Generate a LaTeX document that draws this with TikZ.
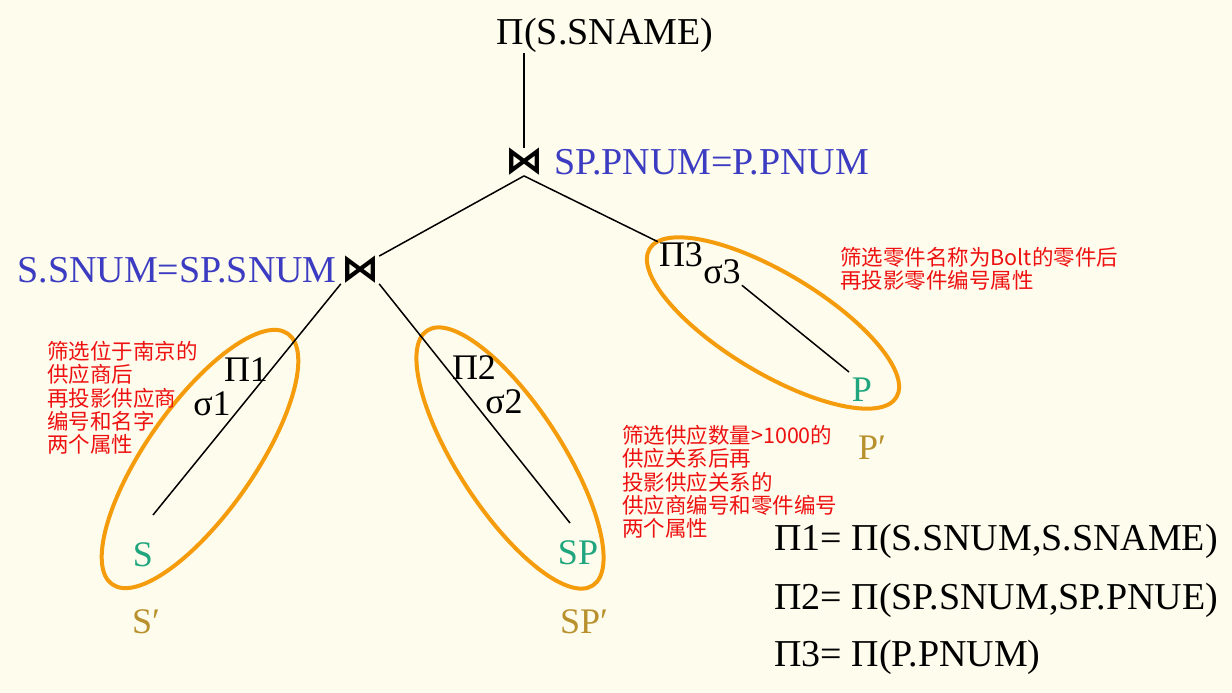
\documentclass[tikz,border=0pt]{standalone}
\usepackage{fontspec}
\setmainfont{Liberation Serif}
\newfontfamily\cjkfont{Noto Sans CJK SC}
\newfontfamily\symfont{DejaVu Sans}
\definecolor{bgcream}{HTML}{FEFCEC}
\definecolor{condblue}{HTML}{3C3CC2}
\definecolor{relgreen}{HTML}{1FA67E}
\definecolor{primegold}{HTML}{B8912E}
\definecolor{ovalorange}{HTML}{F59C0C}
\definecolor{notered}{HTML}{EE1111}
\begin{document}
\begin{tikzpicture}[x=1pt,y=-1pt,
	edge/.style={draw=black,line width=1.5pt},
	lbl/.style={inner sep=1pt,font=\fontsize{38}{40}\selectfont},
	op/.style={inner sep=1pt,font=\fontsize{36}{38}\selectfont},
	rel/.style={op,text=relgreen},
	relp/.style={op,text=primegold},
	cond/.style={lbl,text=condblue},
	joinop/.style={inner sep=0pt,font=\symfont\bfseries\fontsize{38}{38}\selectfont},
	oval/.style={draw=ovalorange,line width=4pt},
	note/.style={anchor=north west,align=left,inner sep=0pt,text=notered,font=\cjkfont\fontsize{21.5}{23.3}\selectfont}]
		\fill[bgcream] (0,0) rectangle (1232,693);
		\useasboundingbox (0,0) rectangle (1232,693);
		% the three sub-queries
		\draw[oval,rotate around={55:(200,459)}]  (200,459) ellipse[x radius=153,y radius=54];
		\draw[oval,rotate around={-57:(510,458)}] (510,458) ellipse[x radius=152,y radius=52];
		\draw[oval,rotate around={-31:(773,323)}] (773,323) ellipse[x radius=144,y radius=50];
		% tree
		\node[lbl] (root) at (605,35) {Π(S.SNAME)};
		\node[joinop] (j1) at (524,162) {⋈};
		\node[cond,anchor=west] (c1) at (553,162) {SP.PNUM=P.PNUM};
		\node[joinop] (j2) at (360,270) {⋈};
		\node[cond,anchor=east] (c2) at (338,270) {S.SNUM=SP.SNUM};
		\node[op] (pi1) at (246,370) {Π1};
		\node[op] (sg1) at (212,404) {σ1};
		\node[op] (pi2) at (474,368) {Π2};
		\node[op] (sg2) at (504,402) {σ2};
		\node[op] (pi3) at (681,255) {Π3};
		\node[op] (sg3) at (722,272) {σ3};
		\node[rel] (S) at (143,555) {S};
		\node[rel] (SP) at (578,553) {SP};
		\node[rel] (P) at (862,390) {P};
		\node[relp] (Sq) at (146,622) {S′};
		\node[relp] (SPq) at (584,622) {SP′};
		\node[relp] (Pq) at (872,448) {P′};
		\coordinate (sEnd) at (153,515);
		\coordinate (spEnd) at (570,523);
		\coordinate (pEnd) at (849,372);
		\draw[edge] (root.south -| j1) -- (j1.north);
		\draw[edge] (j1.south) -- (j2.north east);
		\draw[edge] (j1.south) -- (pi3.north west);
		\draw[edge] (j2.south west) -- (sEnd);
		\draw[edge] (j2.south east) -- (spEnd);
		\draw[edge] (sg3.south east) -- (pEnd);
		% notes
		\node[note] (n1) at (47,341) {筛选位于南京的\\供应商后\\再投影供应商\\编号和名字\\两个属性};
		\node[note] (n2) at (622,425) {筛选供应数量>1000的\\供应关系后再\\投影供应关系的\\供应商编号和零件编号\\两个属性};
		\node[note] (n3) at (840,247) {筛选零件名称为Bolt的零件后\\再投影零件编号属性};
		% projections
		\node[lbl,anchor=west] (f1) at (773,541) {Π1= Π(S.SNUM,S.SNAME)};
		\node[lbl,anchor=west] (f2) at (773,600) {Π2= Π(SP.SNUM,SP.PNUE)};
		\node[lbl,anchor=west] (f3) at (773,657) {Π3= Π(P.PNUM)};
	\end{tikzpicture}
\end{document}
